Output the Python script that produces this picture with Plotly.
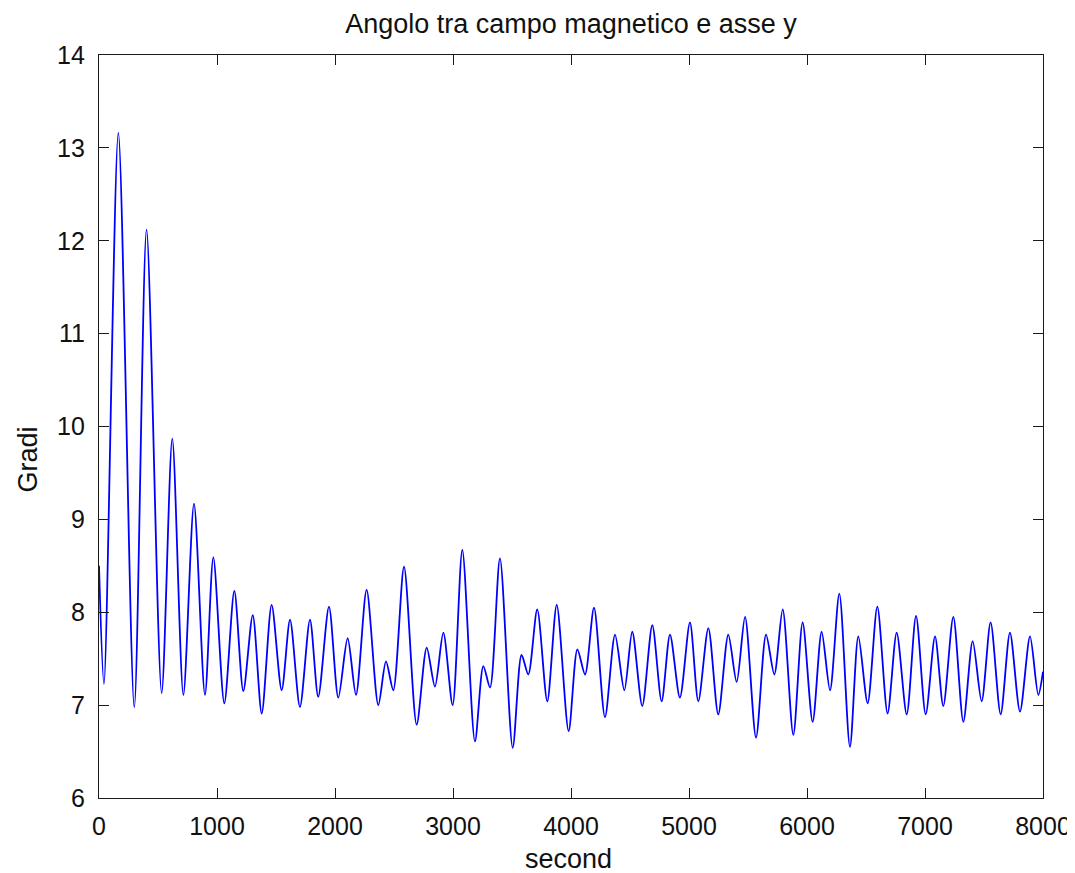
import plotly.graph_objects as go

# Time (s) and angle (degrees) (peaks, troughs, shoulders)
seconds = [0, 42, 164, 299, 403, 531, 621, 715, 805, 898, 969, 1062, 1147, 1223, 1303,
           1379, 1463, 1548, 1619, 1703, 1788, 1858, 1949, 2028, 2107, 2178, 2268, 2367,
           2432, 2494, 2585, 2692, 2777, 2847, 2918, 2997, 3079, 3186, 3257, 3314, 3398,
           3506, 3581, 3638, 3714, 3799, 3879, 3980, 4054, 4119, 4195, 4288, 4373, 4452,
           4519, 4604, 4689, 4768, 4839, 4923, 5008, 5079, 5164, 5248, 5333, 5404, 5475,
           5568, 5653, 5723, 5794, 5884, 5963, 6048, 6124, 6195, 6274, 6364, 6435, 6514,
           6596, 6683, 6760, 6845, 6924, 7006, 7085, 7155, 7240, 7325, 7404, 7480, 7556,
           7641, 7720, 7805, 7890, 7960, 8000]
gradi = [8.5, 7.23, 13.16, 6.98, 12.12, 7.13, 9.87, 7.11, 9.17, 7.11, 8.59, 7.02, 8.23, 7.15, 7.97,
         6.91, 8.08, 7.16, 7.92, 6.98, 7.92, 7.09, 8.06, 7.08, 7.72, 7.11, 8.24, 7.0,
         7.47, 7.16, 8.49, 6.79, 7.62, 7.2, 7.78, 7.0, 8.67, 6.61, 7.42, 7.19, 8.58,
         6.54, 7.54, 7.33, 8.03, 7.04, 8.08, 6.72, 7.6, 7.33, 8.05, 6.87, 7.76, 7.16,
         7.79, 6.99, 7.86, 7.04, 7.76, 7.08, 7.89, 7.04, 7.83, 6.9, 7.76, 7.25, 7.95,
         6.65, 7.76, 7.33, 8.03, 6.68, 7.89, 6.82, 7.79, 7.16, 8.2, 6.55, 7.74, 7.02,
         8.06, 6.91, 7.78, 6.9, 7.96, 6.9, 7.74, 6.99, 7.95, 6.82, 7.69, 7.04, 7.89,
         6.9, 7.78, 6.93, 7.74, 7.11, 7.36]

x_ticks = [0, 1000, 2000, 3000, 4000, 5000, 6000, 7000, 8000]
y_ticks = [6, 7, 8, 9, 10, 11, 12, 13, 14]

title_text = "Angolo tra campo magnetico e asse y"
x_title = "second"
y_title = "Gradi"

FONT = "Liberation Sans, Arial, sans-serif"

# page body has an 8px margin; figure sized so the plot area lands where the reference has it
FIG_W, FIG_H = 1067, 865
L, R, T, B = 91, 32, 47, 75
PLOT_H = FIG_H - T - B

fig = go.Figure()
fig.add_trace(go.Scatter(
    x=seconds, y=gradi, mode="lines",
    line=dict(color="#0000ff", width=1.8, shape="spline", smoothing=0.8),
    showlegend=False, hoverinfo="x+y",
))

axis_common = dict(
    showline=True, linecolor="#1a1a1a", linewidth=1.2, mirror="ticks",
    ticks="inside", ticklen=10, tickcolor="#1a1a1a", tickwidth=1.2,
    showgrid=False, zeroline=False,
    tickfont=dict(family=FONT, size=25, color="#111111"),
)

fig.update_layout(
    width=FIG_W, height=FIG_H,
    paper_bgcolor="white", plot_bgcolor="white",
    margin=dict(l=L, r=R, t=T, b=B, autoexpand=False),
    title=dict(text=title_text, x=0.5, xref="paper", y=1 - 16 / FIG_H, yref="container",
               xanchor="center", yanchor="middle",
               font=dict(family=FONT, size=27, color="#111111")),
    xaxis=dict(range=[0, 8000], tickvals=x_ticks, ticktext=[str(v) for v in x_ticks],
               ticklabelstandoff=6, **axis_common),
    yaxis=dict(range=[6, 14], tickvals=y_ticks, ticktext=[str(v) for v in y_ticks],
               ticklabelstandoff=8, **axis_common),
    annotations=[
        dict(text=x_title, xref="paper", yref="paper", x=0.497, y=-61 / PLOT_H,
             xanchor="center", yanchor="middle", showarrow=False,
             font=dict(family=FONT, size=27, color="#111111")),
        dict(text=y_title, xref="paper", yref="paper", x=-71.5 / (FIG_W - L - R), y=0.455,
             xanchor="center", yanchor="middle", showarrow=False, textangle=-90,
             font=dict(family=FONT, size=27, color="#111111")),
    ],
)

fig.write_html("out.html")
